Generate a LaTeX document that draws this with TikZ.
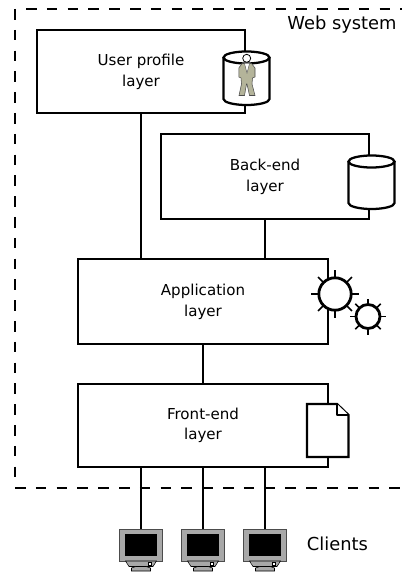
\documentclass[tikz,border=0pt]{standalone}
\usepackage{fontspec}
\setmainfont{DejaVu Sans}
\usepackage{xcolor}
\usetikzlibrary{calc}
\definecolor{suit}{HTML}{B4B49A}
\definecolor{casing}{HTML}{A8A8A8}

% one monitor, its node is the casing
\newcommand{\monitor}[2]{
  \node (#1) at (#2,545) [casing] {};
  \node (#1s) at (#2,545) [glass] {};
  \draw [thin, fill=casing] (#2-15.5,561) -- (#2+15.5,561) -- (#2+12,566.5) -- (#2-12,566.5) -- cycle;
  \draw [thin, fill=casing] (#2-5,566.5) -- (#2+5,566.5) -- (#2+9.5,568) -- (#2+9.5,571) -- (#2-9.5,571) -- (#2-9.5,568) -- cycle;
  \draw [thin, fill=white] (#2+7.5,562.5) rectangle (#2+10,565);
}

% one cylinder with the top at y #2 and bottom at y #3
\newcommand{\cylinder}[3]{
  \draw [icon] (#1-23,#2) -- (#1-23,#3) arc [start angle=180, end angle=0, x radius=23, y radius=6] -- (#1+23,#2);
  \draw [icon] (#1,#2) ellipse [x radius=23, y radius=6];
}

% one gear: x, y, radius, spoke length
\newcommand{\gear}[4]{
  \foreach \a in {0,45,...,315}
    \draw [icon, line width=1.3pt] ($(#1,#2)+(\a:#3)$) -- ($(#1,#2)+(\a:#3+#4)$);
  \draw [icon, line width=2.1pt] (#1,#2) circle [radius=#3];
}

\begin{document}
\begin{tikzpicture}
  [
    x=0.75pt, y=-0.75pt,
    layer/.style={draw=black, line width=1.6pt, fill=white, inner sep=0pt, outer sep=0pt},
    lbl/.style={font=\fontsize{11.3}{15.4}\selectfont, align=center, inner sep=0pt},
    big/.style={font=\fontsize{13.4}{16}\selectfont, inner sep=0pt, anchor=base},
    icon/.style={draw=black, line width=1.7pt, fill=white},
    casing/.style={draw=black!70, line width=0.7pt, fill=casing, minimum width=32.2pt, minimum height=24pt, inner sep=0pt, outer sep=0pt},
    glass/.style={fill=black, minimum width=24.7pt, minimum height=16.5pt, inner sep=0pt},
    wire/.style={draw=black, line width=1.6pt},
    border/.style={line width=1.5pt, dash pattern=on 8pt off 7.6pt}
  ]
  \useasboundingbox (0,0) rectangle (402,573);

  \draw [border] (15,9) -- (15,480);
  \draw [border] (26,9) -- (402,9);
  \draw [border] (15,488) -- (402,488);
  \node (web) at (342,30) [big] {Web system};
  \node (clients) at (337.5,550) [big] {Clients};

  \node (user)  at (141,71.5)  [layer, minimum width=156.5pt, minimum height=62.5pt] {};
  \node (back)  at (265,176.5) [layer, minimum width=156.2pt, minimum height=63.8pt] {};
  \node (app)   at (203,301.5) [layer, minimum width=187.5pt, minimum height=63.5pt] {};
  \node (front) at (203,425.5) [layer, minimum width=187.5pt, minimum height=62pt] {};

  \node (userl)  at (141,72)  [lbl] {User profile\\layer};
  \node (backl)  at (265,177) [lbl] {Back-end\\layer};
  \node (appl)   at (203,302) [lbl] {Application\\layer};
  \node (frontl) at (203,425.5) [lbl] {Front-end\\layer};

  \monitor{client1}{141}
  \monitor{client2}{203}
  \monitor{client3}{265}

  \draw [wire] (user.south) -- (user.south |- app.north);
  \draw [wire] (back.south) -- (back.south |- app.north);
  \draw [wire] (app.south) -- (front.north);
  \draw [wire] (front.south -| client1.north) -- (client1.north);
  \draw [wire] (front.south) -- (client2.north);
  \draw [wire] (front.south -| client3.north) -- (client3.north);

  % user store with the little man
  \cylinder{246.5}{57.5}{99}
  \draw [black!70, line width=0.4pt, fill=suit]
    (242,63.5) -- (251.5,63.5) -- (255,68) -- (255,77) -- (252.5,78) -- (252,84) -- (255,95.5) -- (249.5,95.5) -- (247,84)
    -- (246.5,84) -- (244.5,95.5) -- (239,95.5) -- (241.5,84) -- (241,78) -- (238.8,77) -- (238.8,68) -- cycle;
  \draw [black!70, line width=0.3pt, fill=white] (244.5,63.5) -- (249.5,63.5) -- (247,73) -- cycle;
  \draw [black, line width=0.6pt, fill=white] (246.7,58.3) circle [radius=4];

  \cylinder{371.5}{161.5}{203}

  \gear{335}{294}{16.2}{7.8}
  \gear{368}{316.5}{12}{6}

  % the page with the folded corner
  \draw [icon] (307,404) -- (337,404) -- (348.5,415) -- (348.5,457) -- (307,457) -- cycle;
  \draw [icon, line join=round] (337,404) -- (337,415) -- (348.5,415);
\end{tikzpicture}
\end{document}
